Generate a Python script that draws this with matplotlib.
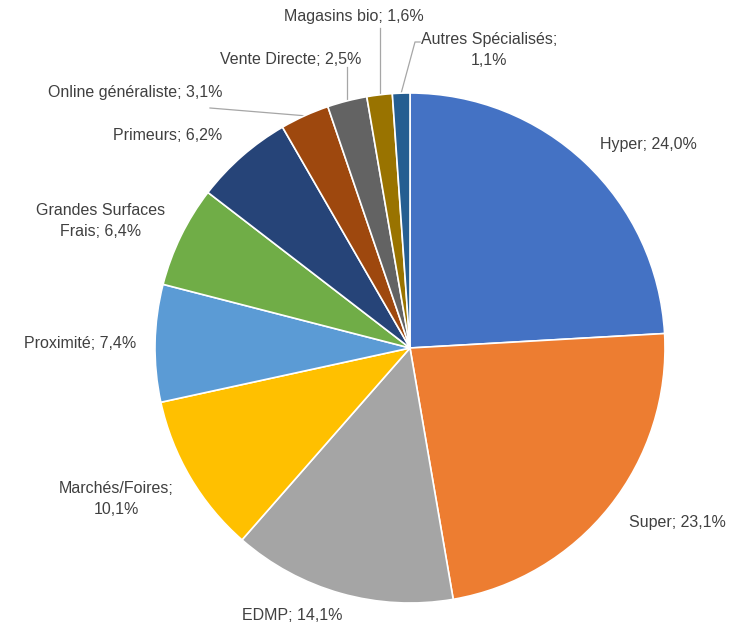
import numpy as np
import matplotlib
matplotlib.use("Agg")
import matplotlib.pyplot as plt

# ── data ─────────────────────────────────────────────────────────
categories = ["Hyper", "Super", "EDMP", "Marchés/Foires", "Proximité",
              "Grandes Surfaces Frais", "Primeurs", "Online généraliste",
              "Vente Directe", "Magasins bio", "Autres Spécialisés"]
shares = [24.0, 23.1, 14.1, 10.1, 7.4, 6.4, 6.2, 3.1, 2.5, 1.6, 1.1]
label_texts = ["Hyper; 24,0%", "Super; 23,1%", "EDMP; 14,1%",
               "Marchés/Foires;\n10,1%", "Proximité; 7,4%",
               "Grandes Surfaces\nFrais; 6,4%", "Primeurs; 6,2%",
               "Online généraliste; 3,1%", "Vente Directe; 2,5%",
               "Magasins bio; 1,6%", "Autres Spécialisés;\n1,1%"]

COLORS = ["#4472C4", "#ED7D31", "#A5A5A5", "#FFC000", "#5B9BD5", "#70AD47",
          "#264478", "#9E480E", "#636363", "#997300", "#255E91"]

W, H = 737, 626
CX, CY, R = 410, H - 348, 255

# label anchor (pixel, y from top) — layout only
LABEL_POS = [(648, 145), (677, 523), (292, 615), (116, 499), (80, 343),
             (101, 221), (168, 135), (135, 92), (291, 60), (354, 17), (489, 50)]
# leader line start points (pixel, y from top) for the small slices
LEADERS = {7: [(210, 108)], 8: [(None, 67)], 9: [(None, 28)],
           10: [(420, 42), (415, 42)]}

fig = plt.figure(figsize=(W / 100, H / 100), dpi=100)
ax = fig.add_axes([0, 0, 1, 1])

wedges, _ = ax.pie(shares, colors=COLORS, startangle=90, counterclock=False,
                   center=(CX, CY), radius=R, normalize=True,
                   wedgeprops=dict(edgecolor="white", linewidth=1.2))

ax.set_xlim(0, W)
ax.set_ylim(0, H)
ax.set_aspect("equal")
ax.axis("off")

FONT = ["Liberation Sans Narrow", "Liberation Sans", "DejaVu Sans"]
for i, (txt, (lx, ly)) in enumerate(zip(label_texts, LABEL_POS)):
    ax.text(lx, H - ly, txt, ha="center", va="center", fontsize=11.5,
            color="#404040", family=FONT, linespacing=1.5)

# leader lines from labels to slice edge (mid angle)
for i, pts in LEADERS.items():
    w = wedges[i]
    mid = np.deg2rad((w.theta1 + w.theta2) / 2)
    ex, ey = CX + R * np.cos(mid), CY + R * np.sin(mid)
    xs = [ex if px is None else px for px, _ in pts] + [ex]
    ys = [H - py for _, py in pts] + [ey]
    ax.plot(xs, ys, color="#A6A6A6", lw=0.9, zorder=0.5)

fig.savefig("out.png", dpi=100, facecolor="white")
